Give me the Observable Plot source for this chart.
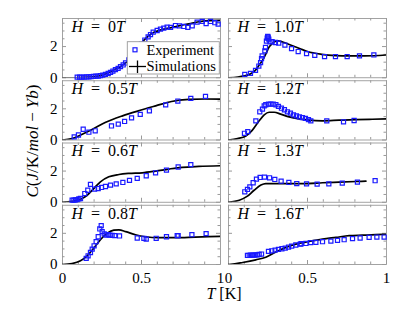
<!DOCTYPE html>
<html><head><meta charset="utf-8">
<script src="https://cdn.jsdelivr.net/npm/d3@7"></script>
<script src="https://cdn.jsdelivr.net/npm/@observablehq/plot@0.6"></script>
<style>body{margin:0;background:#fff;} #chart{width:415px;height:311px;}</style>
</head><body><div id="chart"></div>
<script>
// ---- data ----
const fields   = ["0", "1.0", "0.5", "1.2", "0.6", "1.3", "0.8", "1.6"];
const panelCol = [0, 1, 0, 1, 0, 1, 0, 1];
const panelRow = [0, 0, 1, 1, 2, 2, 3, 3];
const xTicks = [0, 0.5, 1];
const xMinor = [0.1, 0.2, 0.3, 0.4, 0.6, 0.7, 0.8, 0.9];
const yTicks = [0, 2];
const yMinor = [0.5, 1, 1.5, 2.5, 3, 3.5];

const exp_0 = [[0.093,0.04],[0.108,0.04],[0.122,0.04],[0.137,0.04],[0.152,0.05],[0.167,0.06],[0.181,0.07],[0.196,0.09],[0.211,0.1],[0.226,0.11],[0.24,0.13],[0.255,0.17],[0.272,0.22],[0.289,0.28],[0.304,0.34],[0.319,0.43],[0.335,0.52],[0.352,0.6],[0.367,0.71],[0.384,0.82],[0.399,0.95],[0.42,1.15],[0.44,1.4],[0.46,1.65],[0.48,1.9],[0.5,2.15],[0.521,2.42],[0.542,2.62],[0.557,2.77],[0.574,2.92],[0.599,3.03],[0.62,3.12],[0.641,3.18],[0.662,3.25],[0.684,3.23],[0.715,3.35],[0.74,3.33],[0.768,3.29],[0.793,3.23],[0.821,3.33],[0.852,3.57],[0.884,3.61],[0.909,3.48],[0.937,3.61],[0.964,3.53],[0.985,3.44]];
const sim_0 = [[0,0],[0.08,0],[0.12,0.01],[0.167,0.04],[0.21,0.08],[0.25,0.17],[0.28,0.27],[0.31,0.43],[0.34,0.58],[0.367,0.71],[0.39,0.88],[0.41,1.03],[0.45,1.55],[0.49,2.1],[0.53,2.55],[0.567,2.85],[0.61,3.03],[0.673,3.18],[0.736,3.33],[0.8,3.46],[0.863,3.59],[0.926,3.67],[1.0,3.68]];

const exp_10 = [[0.103,0.22],[0.139,0.28],[0.171,0.47],[0.192,0.75],[0.203,0.97],[0.209,1.23],[0.213,1.4],[0.23,1.72],[0.234,1.94],[0.24,2.35],[0.245,2.54],[0.248,2.65],[0.251,2.6],[0.255,2.48],[0.262,2.3],[0.276,2.32],[0.297,2.26],[0.318,2.22],[0.357,2.09],[0.399,1.87],[0.441,1.68],[0.494,1.55],[0.546,1.44],[0.608,1.36],[0.677,1.36],[0.751,1.36],[0.829,1.4],[0.92,1.46]];
const sim_10 = [[0,0],[0.06,0.05],[0.1,0.12],[0.13,0.2],[0.17,0.47],[0.2,0.9],[0.213,1.07],[0.235,1.5],[0.255,1.94],[0.275,2.18],[0.295,2.32],[0.315,2.36],[0.335,2.32],[0.38,2.15],[0.45,1.88],[0.5,1.68],[0.59,1.5],[0.68,1.42],[0.76,1.4],[0.86,1.4],[1.0,1.46]];

const exp_05 = [[0.074,0.2],[0.101,0.32],[0.131,0.69],[0.167,0.5],[0.207,0.59],[0.31,0.9],[0.353,1.02],[0.393,1.19],[0.437,1.42],[0.492,1.64],[0.55,1.87],[0.653,2.25],[0.73,2.5],[0.812,2.67],[0.905,2.8]];
const sim_05 = [[0,0],[0.06,0.09],[0.125,0.37],[0.19,0.69],[0.27,1.12],[0.38,1.55],[0.48,1.87],[0.59,2.19],[0.69,2.47],[0.8,2.6],[0.9,2.63],[1.0,2.62]];

const exp_12 = [[0.101,0.43],[0.122,0.54],[0.173,1.23],[0.198,1.81],[0.215,1.98],[0.226,2.19],[0.236,2.26],[0.253,2.3],[0.268,2.3],[0.283,2.3],[0.3,2.26],[0.316,2.15],[0.335,2.04],[0.354,1.94],[0.373,1.81],[0.392,1.72],[0.411,1.61],[0.43,1.55],[0.449,1.48],[0.468,1.44],[0.487,1.38],[0.506,1.31],[0.521,1.23],[0.622,1.23],[0.728,1.16],[0.795,1.25]];
const sim_12 = [[0,0],[0.057,0.09],[0.11,0.26],[0.15,0.62],[0.194,1.23],[0.226,1.61],[0.257,1.78],[0.289,1.78],[0.33,1.66],[0.384,1.48],[0.447,1.35],[0.51,1.27],[0.595,1.23],[0.7,1.27],[0.806,1.31],[0.91,1.33],[1.0,1.35]];

const exp_06 = [[0.061,0.13],[0.072,0.13],[0.082,0.15],[0.093,0.17],[0.103,0.22],[0.114,0.24],[0.141,0.56],[0.16,0.77],[0.177,1.15],[0.203,0.84],[0.226,0.88],[0.247,0.95],[0.272,1.01],[0.304,1.1],[0.34,1.18],[0.382,1.27],[0.424,1.4],[0.473,1.53],[0.53,1.7],[0.589,1.89],[0.658,2.06],[0.732,2.26],[0.812,2.41]];
const sim_06 = [[0,0],[0.06,0.06],[0.114,0.19],[0.156,0.45],[0.198,0.88],[0.24,1.31],[0.293,1.63],[0.357,1.78],[0.42,1.85],[0.504,1.89],[0.589,2.0],[0.673,2.13],[0.757,2.24],[0.863,2.3],[1.0,2.34]];

const exp_13 = [[0.103,0.67],[0.12,0.82],[0.135,0.99],[0.156,1.25],[0.177,1.48],[0.2,1.59],[0.228,1.61],[0.26,1.57],[0.293,1.46],[0.333,1.35],[0.382,1.27],[0.432,1.2],[0.494,1.18],[0.561,1.16],[0.635,1.18],[0.72,1.23],[0.816,1.29],[0.928,1.38]];
const sim_13 = [[0,0],[0.068,0.13],[0.12,0.39],[0.162,0.77],[0.205,1.1],[0.236,1.2],[0.3,1.2],[0.384,1.2],[0.49,1.2],[0.595,1.25],[0.7,1.29],[0.806,1.33],[0.87,1.35]];

const exp_08 = [[0.15,0.39],[0.162,0.56],[0.177,0.77],[0.188,0.99],[0.2,1.2],[0.213,1.46],[0.226,1.78],[0.236,2.28],[0.245,2.49],[0.251,2.11],[0.264,1.96],[0.276,1.89],[0.289,1.91],[0.3,1.89],[0.314,1.87],[0.331,1.85],[0.361,1.83],[0.473,1.7],[0.515,1.68],[0.53,1.63],[0.593,1.68],[0.658,1.78],[0.726,1.85],[0.732,1.85],[0.819,1.91],[0.909,1.98]];
const sim_08 = [[0,0],[0.06,0.06],[0.114,0.24],[0.156,0.56],[0.198,1.05],[0.24,1.59],[0.283,2.0],[0.325,2.2],[0.357,2.22],[0.4,2.11],[0.462,1.91],[0.525,1.78],[0.61,1.72],[0.715,1.72],[0.84,1.76],[1.0,1.81]];

const exp_16 = [[0.12,0.58],[0.131,0.58],[0.141,0.6],[0.152,0.6],[0.162,0.6],[0.173,0.62],[0.184,0.62],[0.194,0.65],[0.209,0.67],[0.253,0.84],[0.274,0.88],[0.295,0.92],[0.316,0.97],[0.338,1.01],[0.359,1.05],[0.38,1.12],[0.4,1.18],[0.426,1.25],[0.454,1.31],[0.46,1.33],[0.49,1.35],[0.52,1.4],[0.553,1.42],[0.595,1.46],[0.648,1.5],[0.69,1.55],[0.732,1.59],[0.785,1.66],[0.833,1.7],[0.89,1.74],[0.939,1.76],[0.985,1.76]];
const sim_16 = [[0,0],[0.015,0.01],[0.09,0.13],[0.173,0.3],[0.236,0.47],[0.3,0.8],[0.363,1.1],[0.426,1.31],[0.51,1.48],[0.595,1.63],[0.68,1.74],[0.764,1.85],[0.848,1.88],[0.932,1.91],[1.0,1.94]];

const expSets = [exp_0, exp_10, exp_05, exp_12, exp_06, exp_13, exp_08, exp_16];
const simSets = [sim_0, sim_10, sim_05, sim_12, sim_06, sim_13, sim_08, sim_16];

// ---- tables ----
const panels = fields.map((f, i) => ({field: f, col: panelCol[i], row: panelRow[i]}));
const expData = expSets.flatMap((s, i) => s.map(([T, C]) => ({T, C, field: fields[i], col: panelCol[i], row: panelRow[i]})));
const simData = simSets.flatMap((s, i) => s.map(([T, C]) => ({T, C, field: fields[i], col: panelCol[i], row: panelRow[i]})));

// ---- layout ----
const W = 415, H = 311;
const mL = 62, mR = 29, mT = 18, mB = 47;
const gapX = 8, gapY = 3;
const fw = (W - mL - mR - gapX) / 2;
const fh = (H - mT - mB - 3 * gapY) / 4;
const gray = "#999";
const blue = "#1a1aff";
const serif = "'Liberation Serif', 'Times New Roman', serif";

const plot = Plot.plot({
  width: W, height: H,
  marginLeft: mL, marginRight: mR, marginTop: mT, marginBottom: mB,
  style: {fontFamily: serif, fontSize: "15px", background: "white", color: "black"},
  fx: {domain: [0, 1], axis: null, paddingInner: gapX / (fw + gapX), paddingOuter: 0, round: false},
  fy: {domain: [0, 1, 2, 3], axis: null, paddingInner: gapY / (fh + gapY), paddingOuter: 0, round: false},
  x: {domain: [0, 1], ticks: xTicks, tickFormat: d => String(d), tickSize: 0, tickPadding: 8, label: null},
  y: {domain: [0, 3.8], ticks: yTicks, tickFormat: d => String(d), tickSize: 0, tickPadding: 5, label: null},
  marks: [
    Plot.frame({stroke: gray, strokeWidth: 0.9}),
    Plot.tickX(xTicks, {x: d => d, insetTop: fh - 4, stroke: gray}),
    Plot.tickX(xTicks, {x: d => d, insetBottom: fh - 4, stroke: gray}),
    Plot.tickX(xMinor, {x: d => d, insetTop: fh - 2.5, stroke: gray}),
    Plot.tickX(xMinor, {x: d => d, insetBottom: fh - 2.5, stroke: gray}),
    Plot.tickY(yTicks, {y: d => d, insetRight: fw - 4, stroke: gray}),
    Plot.tickY(yTicks, {y: d => d, insetLeft: fw - 4, stroke: gray}),
    Plot.tickY(yMinor, {y: d => d, insetRight: fw - 2.5, stroke: gray}),
    Plot.tickY(yMinor, {y: d => d, insetLeft: fw - 2.5, stroke: gray}),
    Plot.line(simData, {x: "T", y: "C", z: "field", fx: "col", fy: "row", stroke: "black", strokeWidth: 1.7, curve: "monotone-x", clip: true}),
    Plot.dot(expData, {x: "T", y: "C", fx: "col", fy: "row", symbol: "square", r: 2.3, stroke: blue, strokeWidth: 1.2, fill: "none"}),
    Plot.text(panels, {fx: "col", fy: "row", text: d => "H = " + d.field + "T", frameAnchor: "top-left", lineAnchor: "top", dx: 9, dy: 2, fontSize: 16})
  ]
});
document.getElementById("chart").appendChild(plot);

// ---- math-style text (italic variables) ----
const svg = d3.select(plot);
function setMath(textSel, parts) {
  textSel.text(null);
  parts.forEach(([s, it, dx]) => {
    const t = textSel.append("tspan").text(s);
    if (it) t.attr("font-style", "italic");
    if (dx) t.attr("dx", dx);
  });
}
svg.selectAll("text").filter(function() { return /^H = /.test(this.textContent); }).each(function() {
  const f = this.textContent.replace(/^H = /, "").replace(/T$/, "");
  setMath(d3.select(this), [["H", true], ["=", false, 8], [f, false, 8], ["T", true]]);
});

// legend
const lg = svg.append("g").attr("font-family", serif).attr("font-size", 14.5).attr("text-anchor", "start");
lg.append("rect").attr("x", 127.3).attr("y", 41.7).attr("width", 92).attr("height", 32.3)
  .attr("fill", "white").style("fill", "white").attr("stroke", gray).attr("stroke-width", 0.9);
lg.append("rect").attr("x", 133).attr("y", 47.8).attr("width", 4).attr("height", 4)
  .attr("fill", "none").attr("stroke", blue).attr("stroke-width", 1.2);
lg.append("text").attr("x", 146.5).attr("y", 54.5).attr("fill", "black").text("Experiment");
lg.append("line").attr("x1", 129).attr("x2", 146).attr("y1", 66.5).attr("y2", 66.5).attr("stroke", "black").attr("stroke-width", 1.3);
lg.append("line").attr("x1", 137.5).attr("x2", 137.5).attr("y1", 60.5).attr("y2", 73).attr("stroke", "black").attr("stroke-width", 1.3);
lg.append("text").attr("x", 146.5).attr("y", 70.5).attr("fill", "black").text("Simulations");

// axis labels
const yl = svg.append("text").attr("font-family", serif).attr("font-size", 17).attr("fill", "black")
  .attr("text-anchor", "middle").attr("transform", `translate(38,${(mT + H - mB) / 2}) rotate(-90)`);
setMath(yl, [["C", true], ["(", false], ["J", true], ["/K/", false], ["mol", true], ["−", false, 4], ["Yb", true, 4], [")", false]]);
const xl = svg.append("text").attr("font-family", serif).attr("font-size", 16).attr("fill", "black")
  .attr("text-anchor", "middle").attr("x", (mL + W - mR) / 2).attr("y", 299);
setMath(xl, [["T", true], [" [K]", false]]);
</script>
</body></html>
